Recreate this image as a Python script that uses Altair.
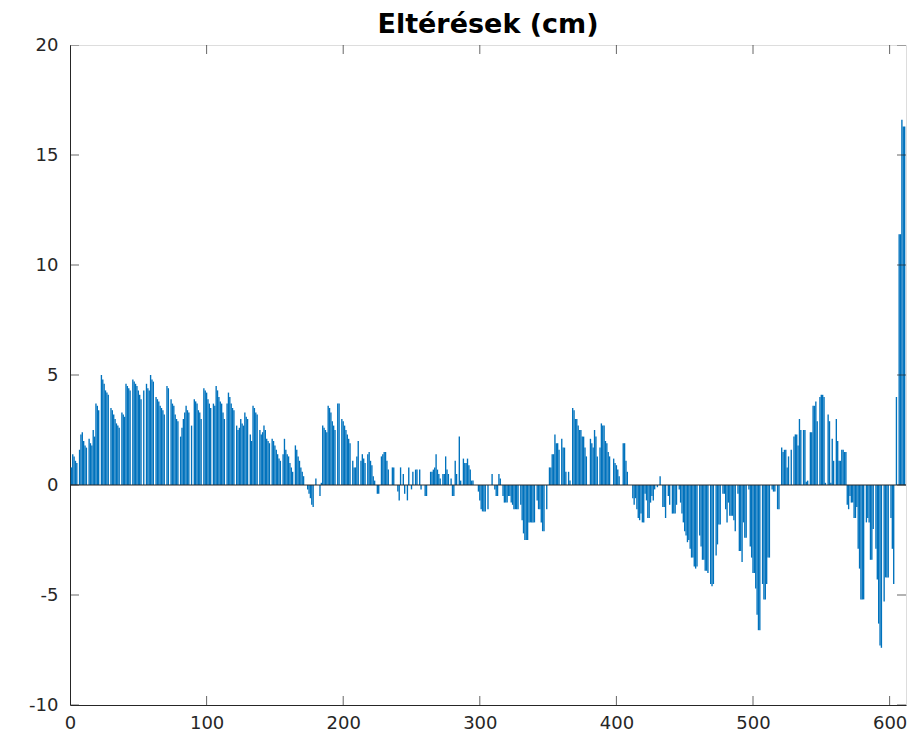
import altair as alt
import pandas as pd

# Deviation values (cm) per sample index, in blocks
vals_001_100 = [
    0.8, 1.4, 1.3, 1.1, 1.0, 0, 1.6, 2.3, 2.4, 2.0,
    1.8, 1.7, 0, 2.1, 1.9, 1.8, 2.5, 2.2, 3.7, 3.6,
    3.4, 0, 5.0, 4.8, 4.6, 4.3, 4.2, 4.1, 0, 3.5,
    3.4, 3.2, 3.0, 2.8, 2.7, 2.6, 0, 3.3, 3.2, 3.1,
    4.6, 4.5, 4.4, 4.3, 0, 4.8, 4.7, 4.6, 4.5, 4.3,
    4.1, 3.9, 0, 4.3, 0, 4.6, 4.4, 4.3, 5.0, 4.8,
    4.7, 0, 4.0, 3.9, 3.8, 3.6, 3.5, 3.4, 3.2, 0,
    4.5, 4.4, 0, 3.9, 3.7, 3.6, 3.2, 3.0, 2.9, 0,
    2.2, 2.6, 3.0, 3.3, 3.6, 3.4, 3.3, 0, 2.7, 0,
    3.9, 3.8, 3.7, 3.4, 3.3, 3.0, 0, 4.4, 4.3, 4.2,
]
vals_101_200 = [
    3.9, 3.7, 3.5, 0, 3.7, 3.6, 4.5, 4.3, 4.0, 3.8,
    3.7, 3.3, 3.0, 0, 3.7, 4.2, 4.0, 3.7, 3.5, 3.4,
    0, 2.7, 2.5, 2.6, 3.0, 2.8, 2.7, 3.3, 3.1, 3.0,
    0, 2.3, 2.0, 3.6, 3.5, 3.3, 3.2, 0, 2.5, 2.3,
    2.4, 2.7, 2.5, 2.1, 2.0, 1.9, 0, 2.1, 2.0, 1.8,
    1.6, 1.4, 1.2, 1.1, 0, 1.4, 2.1, 1.6, 1.4, 1.3,
    1.0, 0.8, 0.6, 0, 1.8, 1.6, 1.3, 1.1, 0.8, 0.6,
    0.4, 0, 0, -0.2, -0.4, -0.6, -0.9, -1.0, 0, 0.3,
    0, 0, -0.5, 0.1, 2.7, 2.6, 2.5, 2.4, 3.6, 3.5,
    3.3, 2.9, 2.7, 2.5, 0, 3.7, 3.7, 0, 3.0, 2.9,
]
vals_201_300 = [
    2.7, 2.5, 2.3, 2.1, 1.9, 0, 1.1, 0.8, 0.8, 1.3,
    2.0, 0, 1.1, 1.4, 1.2, 1.0, 0, 1.4, 1.5, 1.1,
    0.9, 0.4, 0.2, 0, -0.4, -0.4, 0, 1.3, 1.4, 1.5,
    1.5, 1.1, 0.7, 0, 0, 0.8, 0.8, 0, 0, -0.3,
    -0.7, 0.8, 0, 0.5, -0.4, 0, -0.7, 0.8, 0, -0.2,
    0.6, 0, 0.7, 0.7, 0, 0.7, -0.2, 0, 0, -0.5,
    -0.5, 0, 0, 0.6, 0.6, 0.7, 0.8, 1.4, 0.7, 0.5,
    0.3, 0, 0.5, 0.5, 1.3, 0.7, 0.5, 0, 0.3, -0.5,
    -0.5, 1.1, 0.5, 0, 2.2, 0.2, 0, 1.2, 1.0, 1.0,
    1.2, 0.9, 0.7, 0.2, 0.2, 0, 0, 0, -0.3, -0.7,
]
vals_301_400 = [
    -1.1, -1.2, -1.2, -1.2, 0, -1.1, 0, 0, 0.5, 0,
    -0.2, -0.5, -0.5, 0.5, 0.3, 0, -0.5, -0.8, -0.8, -0.8,
    -0.5, -0.5, -0.8, -0.9, -1.1, -1.1, -1.1, -1.1, 0, -0.9,
    -1.6, -2.2, -2.5, -2.5, -2.5, -1.7, -1.7, -1.7, -1.7, -1.7,
    0, -0.7, -1.1, -1.1, -1.7, -2.1, -2.1, 0, -1.1, 0,
    0.8, 0.8, 1.4, 1.4, 2.3, 1.9, 1.9, 1.6, 0, 2.1,
    1.7, 1.7, 0.6, 0, 0.6, 0.2, 0, 3.5, 3.4, 3.0,
    3.0, 2.7, 2.5, 2.5, 2.2, 2.2, 1.7, 1.3, 0, 0,
    2.1, 1.9, 1.7, 2.5, 2.2, 1.3, 0, 1.7, 2.8, 2.7,
    2.7, 2.0, 1.9, 1.5, 1.3, 0, 0, 1.2, 1.0, 0.9,
]
vals_401_500 = [
    0.7, 0.4, 0, 0, 1.9, 1.9, 1.1, 0.6, 0, 0,
    0, -0.6, -0.9, -0.6, -1.1, -1.5, -1.6, -1.3, -1.7, -1.7,
    -0.4, -0.7, -1.5, -1.5, -0.8, -0.5, -0.7, -0.2, 0, -0.1,
    0, 0.4, 0, -1.0, -1.0, -1.5, 0, -0.5, -0.9, 0,
    -1.3, -1.3, -1.3, -0.9, 0, -0.2, -0.8, -1.3, -1.7, -2.1,
    -2.3, -2.6, -2.5, -2.9, -3.3, -3.3, -3.7, -3.8, -3.7, 0,
    -2.3, -2.8, -3.4, -3.4, -3.9, -3.9, -4.0, 0, -4.5, -4.6,
    -4.5, 0, -3.2, -2.7, -1.8, -1.8, 0, -0.4, -0.4, -1.1,
    -1.7, -0.8, -1.4, -1.4, -1.4, -1.6, -2.1, 0, -0.4, -3.0,
    -3.0, -3.5, -1.7, -2.4, -2.4, 0, -0.2, -2.8, -3.3, -4.0,
]
vals_501_611 = [
    -4.0, -4.7, -5.9, -6.6, -6.6, 0, -4.5, -5.2, -5.2, -4.5,
    -3.3, -3.3, 0, -0.2, -0.3, -0.3, 0, -1.1, -1.1, 0,
    1.7, 1.5, 1.6, 1.6, 0.8, 1.3, 0, 1.6, 0, 2.2,
    2.3, 2.3, 1.8, 3.0, 2.5, 0, 2.5, 2.5, 0.15, 0.2,
    0, 2.4, 2.4, 3.6, 3.6, 3.8, 2.9, 0, 4.0, 4.1,
    4.1, 4.0, 0.1, 0, 3.2, 2.9, 0.1, 2.1, 1.1, 0,
    3.0, 2.0, 1.1, 1.1, 1.6, 1.6, 1.5, 1.5, -0.9, -1.1,
    -0.5, -0.8, -0.8, -1.5, -1.5, -1.0, -2.9, -3.8, -5.2, -5.2,
    -5.2, 0, -1.7, -1.5, -1.7, -3.4, -3.4, -2.0, 0, -2.9,
    -4.3, -6.3, -7.3, -7.4, 0, -5.3, -4.2, -4.2, -4.2, 0,
    -1.5, -2.9, -4.5, 0, 4.0, 0, 11.4, 11.4, 16.6, 16.3, 16.3,
]

x_ticks = [0, 100, 200, 300, 400, 500, 600]
y_ticks = [-10, -5, 0, 5, 10, 15, 20]
x_domain = [0, 612]
y_domain = [-10, 20]
title_text = "Eltérések (cm)"

values = (vals_001_100 + vals_101_200 + vals_201_300 +
          vals_301_400 + vals_401_500 + vals_501_611)
df = pd.DataFrame({"i": list(range(1, len(values) + 1)), "v": values})

AX = "#262626"
FONT = "DejaVu Sans"

xs = alt.Scale(domain=x_domain, nice=False, zero=False)
ys = alt.Scale(domain=y_domain, nice=False, zero=False)

bars = alt.Chart(df).transform_calculate(
    lo="datum.i - 0.5", hi="datum.i + 0.5"
).mark_bar(color="#0072BD", strokeWidth=0).encode(
    x=alt.X("lo:Q", scale=xs, axis=alt.Axis(values=x_ticks, title=None, grid=False,
            ticks=False, labelPadding=9, labelFontSize=18, labelColor=AX,
            labelFont=FONT, domainColor=AX, labelFlush=False,
            labelExpr="'' + datum.value")),
    x2="hi:Q",
    y=alt.Y("v:Q", scale=ys, axis=alt.Axis(values=y_ticks, title=None, grid=False,
            ticks=False, labelPadding=12, labelFontSize=18, labelColor=AX,
            labelFont=FONT, domainColor=AX, labelFlush=False,
            labelExpr="'' + datum.value")),
    y2=alt.datum(0),
)

baseline = alt.Chart(pd.DataFrame({"z": [0]})).mark_rule(color=AX, strokeWidth=1).encode(
    y=alt.Y("z:Q", scale=ys)
)

yt = pd.DataFrame({"t": y_ticks})
xt = pd.DataFrame({"t": x_ticks})
tick_left = alt.Chart(yt).mark_tick(orient="horizontal", size=18, thickness=1,
                                    color=AX, clip=True).encode(
    y=alt.Y("t:Q", scale=ys), x=alt.datum(x_domain[0], scale=xs))
tick_right = alt.Chart(yt).mark_tick(orient="horizontal", size=18, thickness=1,
                                     color=AX, clip=True).encode(
    y=alt.Y("t:Q", scale=ys), x=alt.datum(x_domain[1], scale=xs))
tick_bottom = alt.Chart(xt).mark_tick(orient="vertical", size=18, thickness=1,
                                      color=AX, clip=True).encode(
    x=alt.X("t:Q", scale=xs), y=alt.datum(y_domain[0], scale=ys))
tick_top = alt.Chart(xt).mark_tick(orient="vertical", size=18, thickness=1,
                                   color=AX, clip=True).encode(
    x=alt.X("t:Q", scale=xs), y=alt.datum(y_domain[1], scale=ys))

chart = alt.layer(bars, baseline, tick_left, tick_right, tick_bottom, tick_top).properties(
    width=836, height=660,
    title=alt.TitleParams(title_text, fontSize=27, fontWeight="bold", font=FONT,
                          color="#000000", offset=-3, anchor="middle"),
    autosize=alt.AutoSizeParams(type="none"),
    padding={"left": 70, "top": 45, "right": 10, "bottom": 38},
).configure_view(stroke=AX, strokeWidth=1).configure(background="white")

chart.save("out.html", embed_options={"renderer": "svg", "actions": False})
